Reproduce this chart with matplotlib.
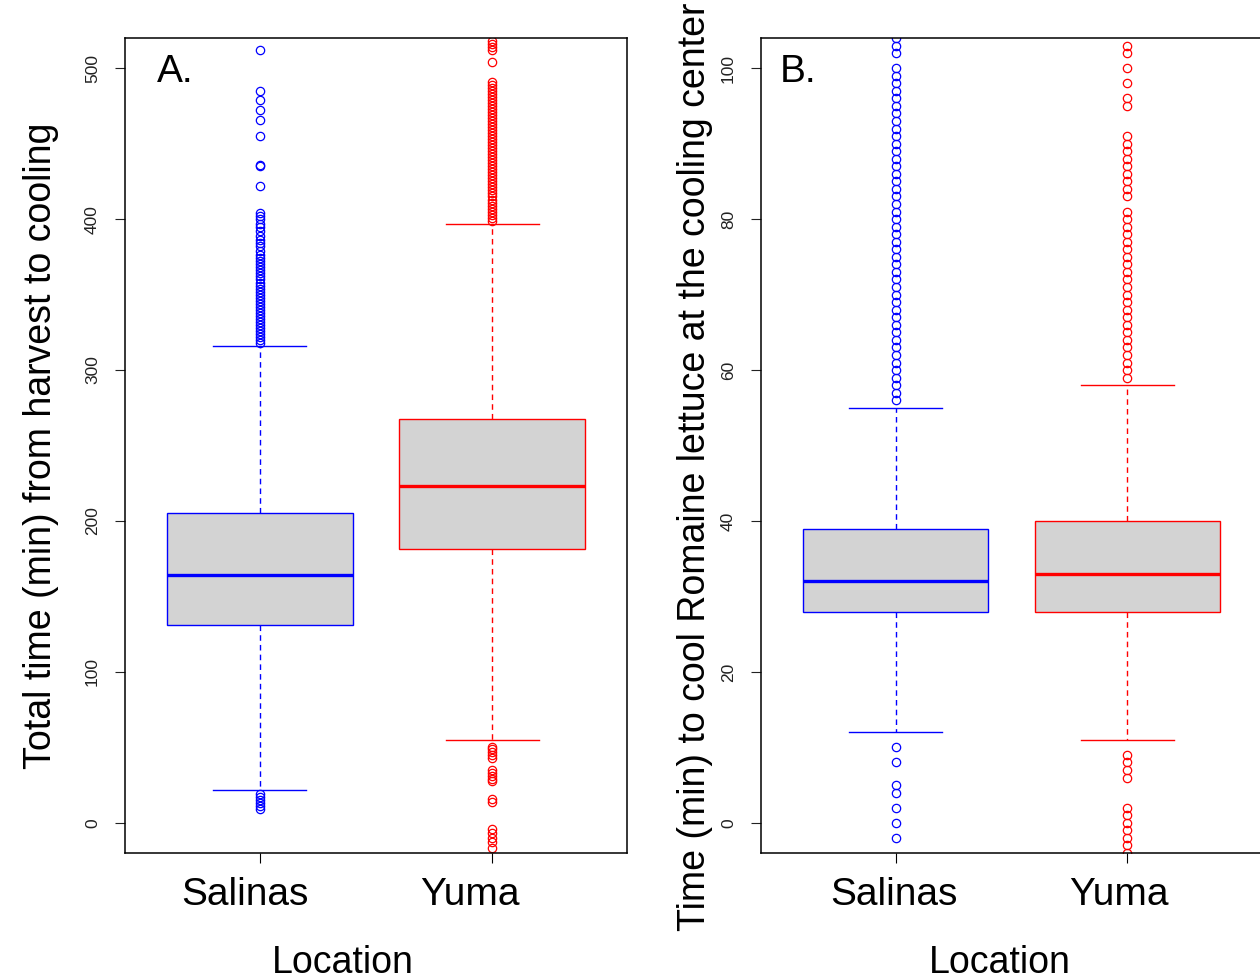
import matplotlib
matplotlib.use('Agg')
import matplotlib.pyplot as plt
import matplotlib.transforms as mtransforms

plt.rcParams['font.family'] = ['Liberation Sans', 'DejaVu Sans']

locations = ['Salinas', 'Yuma']
colors = ['#0000FF', '#FF0000']

# panel A: total time (min) from harvest to cooling
a_q1 = [131, 181.5]
a_med = [164, 223]
a_q3 = [205, 267.5]
a_whislo = [22, 55]
a_whishi = [316, 397]
a_fliers_salinas = [512, 485, 479, 472, 466, 455, 436, 435, 422,
                    404, 402, 400, 397, 395, 392, 389, 386, 384, 382, 379, 376,
                    374, 372, 370, 368, 366, 364, 362, 360, 358, 356, 354, 352,
                    350, 348, 346, 344, 342, 340, 338, 336, 334, 332, 330, 328,
                    326, 324, 322, 320, 318,
                    19, 17, 15, 13, 11, 9]
a_fliers_yuma = [518, 516, 514, 512, 504, 491, 489, 487, 485, 483, 481, 479,
                 477, 475, 473, 471, 469, 467, 465, 463, 461, 459, 457, 455,
                 453, 451, 449, 447, 445, 443, 441, 439, 437, 435, 433, 431,
                 429, 427, 425, 423, 421, 419, 417, 415, 413, 411, 409, 407,
                 405, 403, 401, 399,
                 50, 49, 47, 45, 43, 35, 33, 31, 29, 28, 16, 14,
                 -4, -7, -10, -13, -17]

# panel B: time (min) to cool romaine lettuce at the cooling center
b_q1 = [28, 28]
b_med = [32, 33]
b_q3 = [39, 40]
b_whislo = [12, 11]
b_whishi = [55, 58]
b_fliers_salinas = [104, 103, 102, 100, 99, 98, 97, 96, 95, 94, 93, 92, 91,
                    90, 89, 88, 87, 86, 85, 84, 83, 82, 81, 80, 79, 78, 77, 76,
                    75, 74, 73, 72, 71, 70, 69, 68, 67, 66, 65, 64, 63, 62, 61,
                    60, 59, 58, 57, 56,
                    10, 8, 5, 4, 2, 0, -2]
b_fliers_yuma = [103, 102, 100, 98, 96, 95, 91, 90, 89, 88, 87, 86, 85, 84, 83,
                 81, 80, 79, 78, 77, 76, 75, 74, 73, 72, 71, 70, 69, 68, 67,
                 66, 65, 64, 63, 62, 61, 60, 59,
                 9, 8, 7, 6, 2, 1, 0, -1, -2, -3, -4]


def make_stats(q1, med, q3, lo, hi, fliers):
    return [{'q1': q1[i], 'med': med[i], 'q3': q3[i], 'whislo': lo[i],
             'whishi': hi[i], 'fliers': fliers[i], 'label': locations[i]}
            for i in range(len(locations))]


def draw_panel(ax, stats, ylim, yticks, letter, ylabel, letter_x, labelpad,
               label_shift, xlab_x, ylab_y):
    for i, st in enumerate(stats):
        c = colors[i]
        ax.bxp([st], positions=[i + 1], widths=0.8, patch_artist=True,
               boxprops=dict(facecolor='#D3D3D3', edgecolor=c, linewidth=1),
               whiskerprops=dict(color=c, linewidth=1, linestyle=(0, (4, 3))),
               capprops=dict(color=c, linewidth=1),
               medianprops=dict(color=c, linewidth=2.4, solid_capstyle='butt'),
               flierprops=dict(marker='o', markerfacecolor='none',
                               markeredgecolor=c, markersize=6,
                               markeredgewidth=0.9, linestyle='none'))
    ax.set_xlim(0.42, 2.58)
    ax.set_ylim(*ylim)
    ax.set_xticks([1, 2])
    ax.set_xticklabels(locations)
    ax.set_yticks(yticks)
    ax.tick_params(axis='y', labelrotation=90, labelsize=12.5, length=7,
                   pad=11, colors='#222222')
    ax.tick_params(axis='x', labelsize=28, length=7, pad=10)
    for lab in ax.get_yticklabels():
        lab.set_va('center')
    # the category names sit a little left of their ticks in the original
    for lab, dx in zip(ax.get_xticklabels(), label_shift):
        lab.set_transform(lab.get_transform() + mtransforms.ScaledTranslation(
            dx / 100, 0, fig.dpi_scale_trans))
    for s in ax.spines.values():
        s.set_linewidth(1.1)
    ax.set_xlabel('Location', fontsize=27)
    ax.xaxis.set_label_coords(xlab_x, -0.113)
    ax.set_ylabel(ylabel, fontsize=27, labelpad=labelpad)
    ax.yaxis.label.set_y(ylab_y)
    ax.text(letter_x, 0.946, letter, transform=ax.transAxes, fontsize=28,
            va='baseline', ha='left')


fig = plt.figure(figsize=(12.6, 9.8), dpi=100)
ax1 = fig.add_axes([0.0992, 0.1296, 0.3984, 0.8316])
ax2 = fig.add_axes([0.604, 0.1296, 0.3976, 0.8316])

draw_panel(ax1, make_stats(a_q1, a_med, a_q3, a_whislo, a_whishi,
                           [a_fliers_salinas, a_fliers_yuma]),
           (-20, 520), [0, 100, 200, 300, 400, 500], 'A.',
           'Total time (min) from harvest to cooling', 0.064, 19,
           [-15, -22], 0.434, 0.5)
draw_panel(ax2, make_stats(b_q1, b_med, b_q3, b_whislo, b_whishi,
                           [b_fliers_salinas, b_fliers_yuma]),
           (-4, 104), [0, 20, 40, 60, 80, 100], 'B.',
           'Time (min) to cool Romaine lettuce at the cooling center', 0.038, 6,
           [-2, -9], 0.477, 0.474)

fig.savefig('out.png', dpi=100)
